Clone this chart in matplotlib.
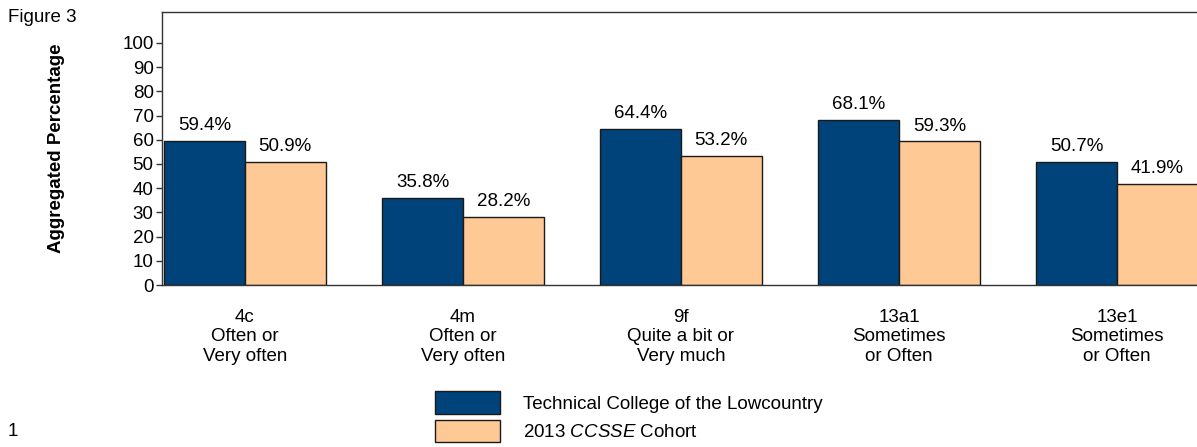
import matplotlib.pyplot as plt
import numpy as np

plt.rcParams['font.family'] = ['Liberation Sans', 'DejaVu Sans']
plt.rcParams['mathtext.fontset'] = 'custom'
plt.rcParams['mathtext.it'] = 'Liberation Sans:italic'
plt.rcParams['mathtext.rm'] = 'Liberation Sans'

# data
categories = ['4c\nOften or\nVery often',
              '4m\nOften or\nVery often',
              '9f\nQuite a bit or\nVery much',
              '13a1\nSometimes\nor Often',
              '13e1\nSometimes\nor Often']
college = [59.4, 35.8, 64.4, 68.1, 50.7]
cohort = [50.9, 28.2, 53.2, 59.3, 41.9]
series_names = ['Technical College of the Lowcountry', '2013 $\\it{CCSSE}$ Cohort']
yticks = [0, 10, 20, 30, 40, 50, 60, 70, 80, 90, 100]

blue = '#00427A'
peach = '#FFC995'
edge = '#1a1a1a'
fs = 13.5

fig = plt.figure(figsize=(11.97, 4.47), dpi=100)
ax = fig.add_axes([162 / 1197, 1 - 285 / 447, 1 - 162 / 1197, (285 - 12) / 447])

x = np.arange(len(categories))
w = 0.37
b1 = ax.bar(x - w / 2, college, w, color=blue, edgecolor=edge, linewidth=1, label=series_names[0])
b2 = ax.bar(x + w / 2, cohort, w, color=peach, edgecolor=edge, linewidth=1, label=series_names[1])

for bars in (b1, b2):
    for r in bars:
        ax.annotate(f'{r.get_height():.1f}%', (r.get_x() + r.get_width() / 2, r.get_height()),
                    xytext=(0, 5), textcoords='offset points', ha='center', va='bottom', fontsize=fs)

ax.set_xlim(-0.38, 4.367)
ax.set_ylim(0, 112.8)
ax.set_yticks(yticks)
ax.set_xticks(x)
ax.set_xticklabels(categories, fontsize=fs, linespacing=1.2)
ax.tick_params(axis='x', length=0, pad=17)
ax.tick_params(axis='y', length=4, width=1, pad=2, labelsize=fs, color='#333333')
ax.spines['right'].set_visible(False)
for s in ('top', 'left', 'bottom'):
    ax.spines[s].set_color('#333333')
    ax.spines[s].set_linewidth(1)

ax.set_ylabel('Aggregated Percentage', fontsize=fs, fontweight='bold')
ax.yaxis.set_label_coords(-0.094, 0.5)

fig.text(8 / 1197, 1 - 9 / 447, 'Figure 3', fontsize=fs, va='top', ha='left')
fig.text(8 / 1197, 1 - 432 / 447, '1', fontsize=fs, va='center', ha='left')

fig.legend(handles=[b1, b2], loc='upper left', bbox_to_anchor=(435 / 1197, 1 - 391 / 447),
           frameon=False, fontsize=fs, handlelength=3.47, handleheight=1.5,
           handletextpad=1.23, labelspacing=0.3, borderpad=0, borderaxespad=0)

fig.savefig('out.png', dpi=100)
